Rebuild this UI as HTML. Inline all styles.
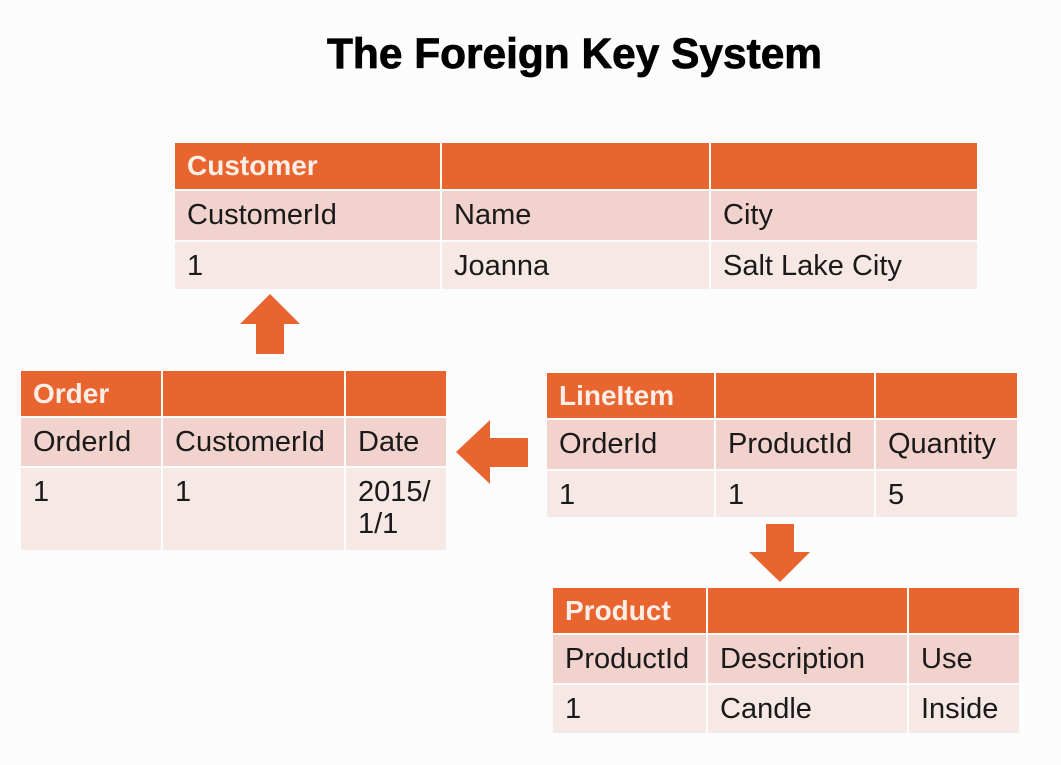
<!DOCTYPE html>
<html><head><meta charset="utf-8">
<style>
body{margin:0;width:1061px;height:765px;background:#fcfcfd;position:relative;overflow:hidden;font-family:"Liberation Sans",Arial,sans-serif}
.cell{position:absolute;box-sizing:border-box;font-size:29px;color:#1a1a1a;padding-left:12px;line-height:1.1}
.hd{background:#e8652f;color:#fbeee6;font-weight:bold;font-size:28px}
.r1{background:#f2d2cd}
.r2{background:#f6e8e4}
</style></head><body>
<svg width="1061" height="765" style="position:absolute;left:0;top:0">
<text x="327" y="68" font-family="Liberation Sans, Arial, sans-serif" font-weight="bold" font-size="43" textLength="495" lengthAdjust="spacingAndGlyphs" fill="#000" stroke="#000" stroke-width="0.8">The Foreign Key System</text>
<polygon points="240,324 270,294 300,324 284,324 284,354 256,354 256,324" fill="#e8652f"/>
<polygon points="456,452 490,420 490,438 528,438 528,467 490,467 490,484" fill="#e8652f"/>
<polygon points="766,524 794,524 794,552 810,552 780,582 749,552 766,552" fill="#e8652f"/>
</svg>
<div id="root"></div>
<script>
const tables=[
 {name:"customer-table",cols:[175,441,710,977],rows:[143,190,241,289],data:[["Customer","",""],["CustomerId","Name","City"],["1","Joanna","Salt Lake City"]]},
 {name:"order-table",cols:[21,162,345,446],rows:[371,417,467,550],data:[["Order","",""],["OrderId","CustomerId","Date"],["1","1","2015/<br>1/1"]]},
 {name:"lineitem-table",cols:[547,715,875,1017],rows:[373,419,470,517],data:[["LineItem","",""],["OrderId","ProductId","Quantity"],["1","1","5"]]},
 {name:"product-table",cols:[553,707,908,1019],rows:[588,634,684,733],data:[["Product","",""],["ProductId","Description","Use"],["1","Candle","Inside"]]}
];
const root=document.getElementById('root');
tables.forEach(t=>{
 const g=document.createElement('div');
 
 
 root.appendChild(g);
 for(let r=0;r<3;r++)for(let c=0;c<3;c++){
  const d=document.createElement('div');
  d.className='cell '+(r==0?'hd':r==1?'r1':'r2');
  
  
  const x=t.cols[c]+(c>0?1:0),y=t.rows[r]+(r>0?1:0);
  const w=t.cols[c+1]-t.cols[c]-(c>0?1:0)-(c<2?1:0);
  const h=t.rows[r+1]-t.rows[r]-(r>0?1:0)-(r<2?1:0);
  d.style.left=x+'px';d.style.top=y+'px';d.style.width=w+'px';d.style.height=h+'px';
  d.style.paddingTop=(r==0?8:9)+'px';
  d.innerHTML=t.data[r][c];
  g.appendChild(d);
 }
});
</script>
</body></html>
